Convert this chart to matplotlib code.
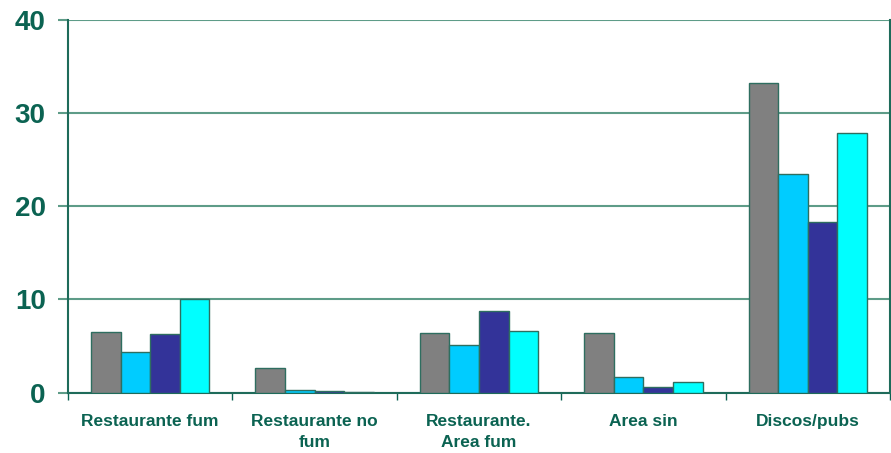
import matplotlib.pyplot as plt
import numpy as np

categories = ['Restaurante fum', 'Restaurante no\nfum', 'Restaurante.\nArea fum', 'Area sin', 'Discos/pubs']
serie1 = [6.5, 2.7, 6.4, 6.4, 33.2]
serie2 = [4.4, 0.25, 5.1, 1.7, 23.5]
serie3 = [6.3, 0.15, 8.8, 0.6, 18.3]
serie4 = [10.1, 0.1, 6.6, 1.1, 27.8]
series = [serie1, serie2, serie3, serie4]
colors = ['#808080', '#00CCFF', '#333399', '#00FFFF']

green = '#0B6352'
grid_green = '#5E9C88'

fig = plt.figure(figsize=(8.91, 4.53), dpi=100)
ax = fig.add_axes([0.0763, 0.1331, 0.9226, 0.8234])

x = np.arange(len(categories))
w = 0.18
for i, vals in enumerate(series):
    ax.bar(x + (i - 1.5) * w, vals, width=w, color=colors[i],
           edgecolor='#2E6E60', linewidth=1, zorder=3)

ax.set_xlim(-0.5, len(categories) - 0.5)
ax.set_ylim(0, 40)
ax.set_yticks([0, 10, 20, 30, 40])
ax.yaxis.grid(True, color=grid_green, linewidth=1.5, zorder=0)
ax.set_axisbelow(True)

ax.set_xticks(x)
ax.set_xticklabels(categories)
ax.set_xticks(np.arange(len(categories) + 1) - 0.5, minor=True)
ax.tick_params(axis='x', which='major', length=0, pad=15,
               labelsize=12.5, labelcolor=green)
ax.tick_params(axis='x', which='minor', length=5, width=1, color=green, direction='out')
ax.tick_params(axis='y', length=7, width=1.5, color=grid_green, pad=9,
               labelsize=20, labelcolor=green)
for lbl in ax.get_xticklabels() + ax.get_yticklabels():
    lbl.set_fontweight('bold')
    lbl.set_fontfamily('Liberation Sans')
for lbl in ax.get_xticklabels():
    lbl.set_linespacing(1.5)

ax.spines['top'].set_visible(False)
for s in ['left', 'bottom', 'right']:
    ax.spines[s].set_color('#1E6B5A')
    ax.spines[s].set_linewidth(1.5)

fig.savefig('out.png', dpi=100)
